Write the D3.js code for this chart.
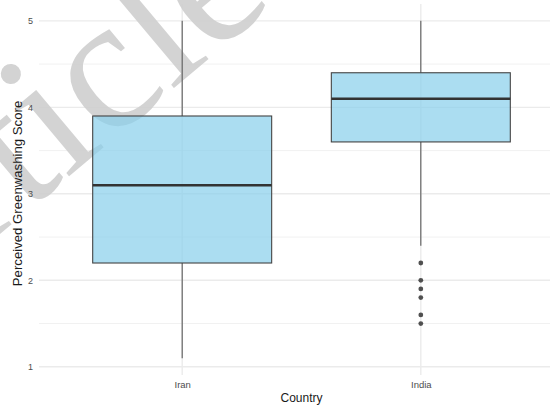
<!DOCTYPE html>
<html>
<head>
<meta charset="utf-8">
<script src="https://cdn.jsdelivr.net/npm/d3@7"></script>
<style>
  html, body { margin: 0; padding: 0; background: #fff; }
  svg { display: block; }
</style>
</head>
<body>
<svg id="chart" width="550" height="405"></svg>
<script>
// Box-plot summaries per country (perceived greenwashing score, 1–5 scale)
const categories = ["Iran", "India"];
const q1Values      = [2.2, 3.6];
const medianValues  = [3.1, 4.1];
const q3Values      = [3.9, 4.4];
const lowerWhisker  = [1.1, 2.4];
const upperWhisker  = [5.0, 5.0];
const outlierCountry = ["India", "India", "India", "India", "India", "India"];
const outlierValues  = [2.2, 2.0, 1.9, 1.8, 1.6, 1.5];
const yTicks = [1, 2, 3, 4, 5];
const yMinorTicks = [1.5, 2.5, 3.5, 4.5];
const xTitle = "Country";
const yTitle = "Perceived Greenwashing Score";

const svg = d3.select("#chart");

// Plot panel (extends a little past the right edge of the canvas)
const panel = { left: 39, right: 564, top: 4, bottom: 375 };

const x = d3.scalePoint()
  .domain(categories)
  .range([panel.left, panel.right])
  .padding(0.6);

const y = d3.scaleLinear()
  .domain([0.905, 5.195])
  .range([panel.bottom, panel.top]);

const boxW = x.step() * 0.75;

// Grid
const grid = svg.append("g");
grid.selectAll("line.minor").data(yMinorTicks).join("line")
  .attr("class", "minor")
  .attr("x1", panel.left).attr("x2", panel.right)
  .attr("y1", d => y(d)).attr("y2", d => y(d))
  .attr("stroke", "#f1f1f1").attr("stroke-width", 1);
grid.selectAll("line.majorY").data(yTicks).join("line")
  .attr("class", "majorY")
  .attr("x1", panel.left).attr("x2", panel.right)
  .attr("y1", d => y(d)).attr("y2", d => y(d))
  .attr("stroke", "#ebebeb").attr("stroke-width", 1.4);
grid.selectAll("line.majorX").data(categories).join("line")
  .attr("class", "majorX")
  .attr("y1", panel.top).attr("y2", panel.bottom)
  .attr("x1", d => x(d)).attr("x2", d => x(d))
  .attr("stroke", "#ebebeb").attr("stroke-width", 1.4);

// Watermark text
svg.append("text")
  .attr("transform", "translate(74,172) rotate(-40)")
  .attr("text-anchor", "middle")
  .attr("font-family", "'Liberation Serif', 'DejaVu Serif', serif")
  .attr("font-size", 190)
  .attr("fill", "#cfcfcf")
  .attr("opacity", 0.9)
  .text("Article");

// Axis tick labels
const yAxis = d3.axisLeft(y).tickValues(yTicks).tickSize(0).tickPadding(6).tickFormat(d3.format("d"));
const gy = svg.append("g").attr("transform", `translate(${panel.left},0)`).call(yAxis);
gy.select(".domain").remove();
gy.selectAll("text")
  .attr("fill", "#4d4d4d")
  .attr("font-family", "Liberation Sans, Arial, sans-serif")
  .attr("font-size", 9);

const xAxis = d3.axisBottom(x).tickSize(0).tickPadding(6);
const gx = svg.append("g").attr("transform", `translate(0,${panel.bottom})`).call(xAxis);
gx.select(".domain").remove();
gx.selectAll("text")
  .attr("fill", "#4d4d4d")
  .attr("font-family", "Liberation Sans, Arial, sans-serif")
  .attr("font-size", 9.5);

// Boxes
const rows = categories.map((c, i) => ({
  c, q1: q1Values[i], med: medianValues[i], q3: q3Values[i],
  lo: lowerWhisker[i], hi: upperWhisker[i]
}));

const boxes = svg.append("g").selectAll("g").data(rows).join("g");

boxes.append("line")
  .attr("x1", d => x(d.c)).attr("x2", d => x(d.c))
  .attr("y1", d => y(d.q3)).attr("y2", d => y(d.hi))
  .attr("stroke", "#5a5a5a").attr("stroke-width", 1.1);
boxes.append("line")
  .attr("x1", d => x(d.c)).attr("x2", d => x(d.c))
  .attr("y1", d => y(d.q1)).attr("y2", d => y(d.lo))
  .attr("stroke", "#5a5a5a").attr("stroke-width", 1.1);

boxes.append("rect")
  .attr("x", d => x(d.c) - boxW / 2)
  .attr("width", boxW)
  .attr("y", d => y(d.q3))
  .attr("height", d => y(d.q1) - y(d.q3))
  .attr("fill", "#87ceeb").attr("fill-opacity", 0.7)
  .attr("stroke", "#444").attr("stroke-width", 1.1);

boxes.append("line")
  .attr("x1", d => x(d.c) - boxW / 2).attr("x2", d => x(d.c) + boxW / 2)
  .attr("y1", d => y(d.med)).attr("y2", d => y(d.med))
  .attr("stroke", "#333").attr("stroke-width", 2.4);

// Outliers
svg.append("g").selectAll("circle")
  .data(outlierValues.map((v, i) => ({ c: outlierCountry[i], v })))
  .join("circle")
  .attr("cx", d => x(d.c)).attr("cy", d => y(d.v))
  .attr("r", 2.4)
  .attr("fill", "#333").attr("fill-opacity", 0.85);

// Axis titles
svg.append("text")
  .attr("x", (panel.left + panel.right) / 2).attr("y", 402)
  .attr("text-anchor", "middle")
  .attr("font-family", "Liberation Sans, Arial, sans-serif")
  .attr("font-size", 12)
  .attr("fill", "#1a1a1a")
  .text(xTitle);

svg.append("text")
  .attr("transform", `translate(22,${(panel.top + panel.bottom) / 2 + 4}) rotate(-90)`)
  .attr("text-anchor", "middle")
  .attr("font-family", "Liberation Sans, Arial, sans-serif")
  .attr("font-size", 13.2)
  .attr("fill", "#1a1a1a")
  .text(yTitle);
</script>
</body>
</html>
